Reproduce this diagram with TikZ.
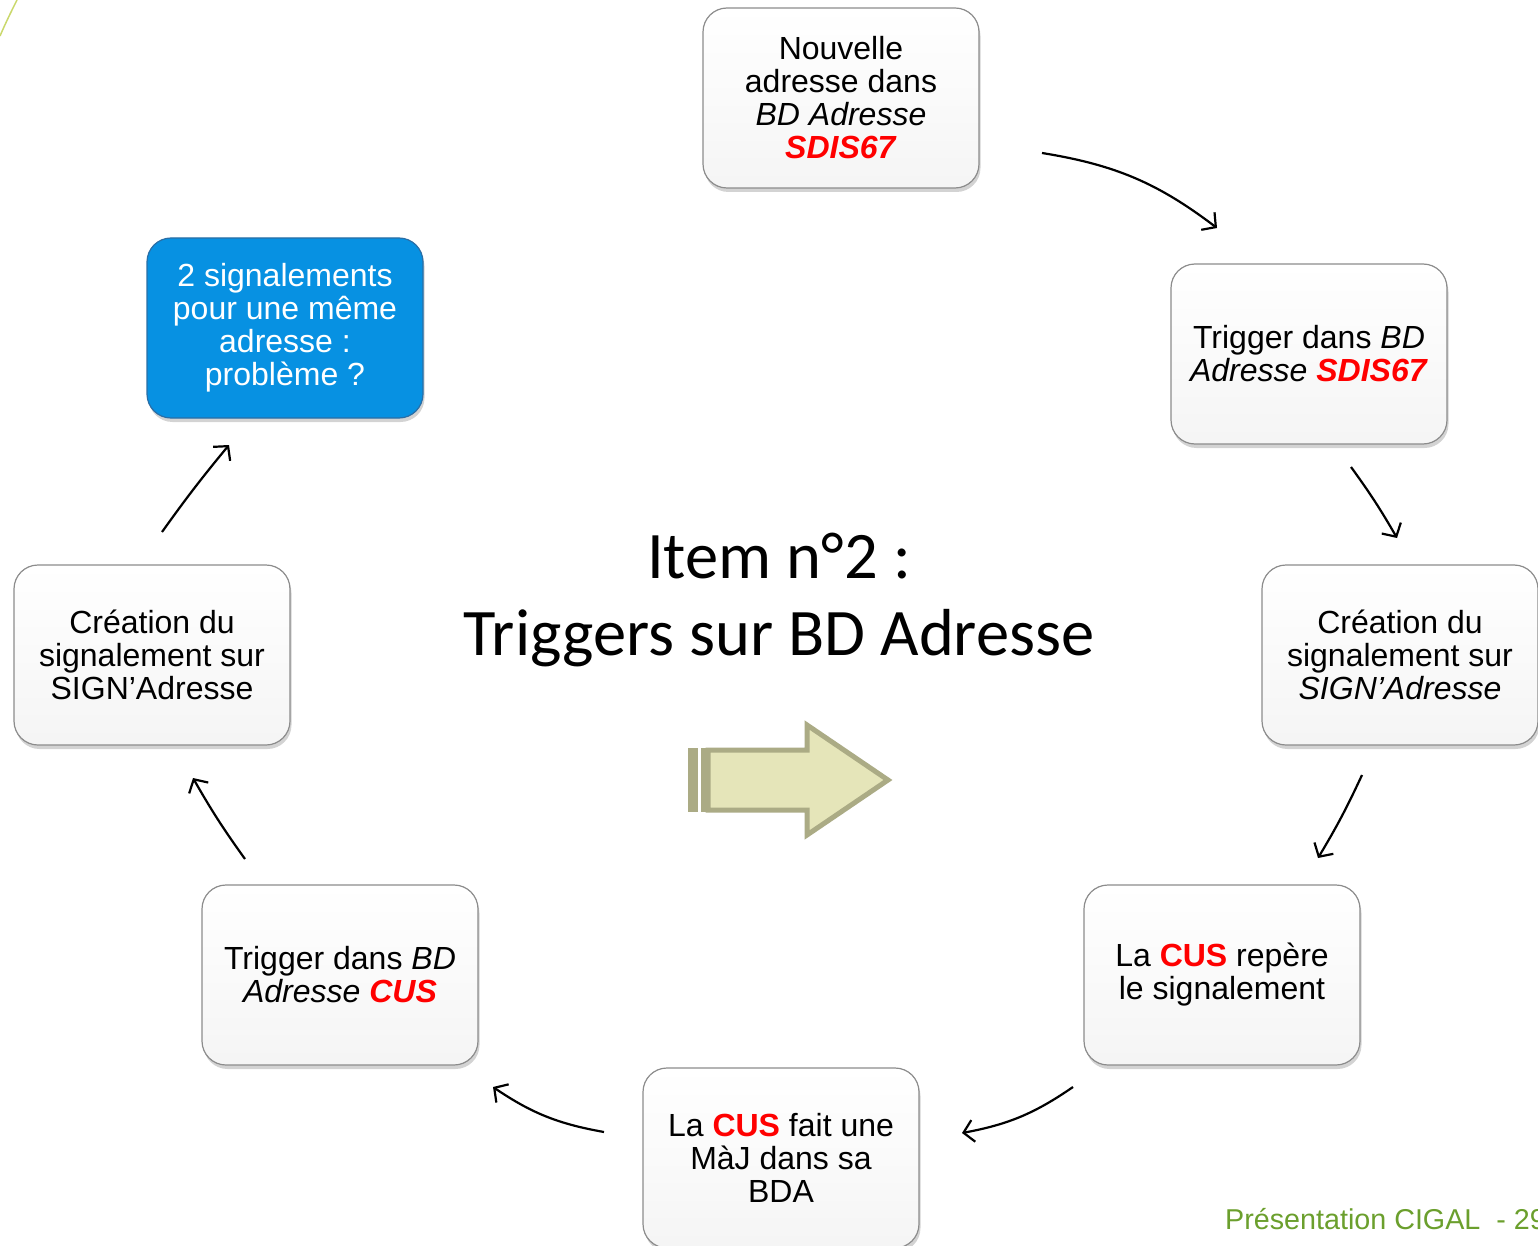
\documentclass[tikz,border=0pt]{standalone}
\usepackage{fontspec}
\setmainfont{Liberation Sans}
\newfontfamily\titlefont{Carlito}
\usetikzlibrary{arrows.meta,shadows}
\definecolor{boxborder}{HTML}{8C8C8C}
\definecolor{boxblue}{HTML}{0791E2}
\definecolor{boxblueborder}{HTML}{2A6EA6}
\definecolor{footgreen}{HTML}{6B9F2D}
\definecolor{arrowfill}{HTML}{E5E5B9}
\definecolor{arrowline}{HTML}{ABAB85}
\definecolor{cornergreen}{HTML}{CAD86C}
\newcommand\redbi[1]{\textcolor{red}{\textbf{\textit{#1}}}}
\newcommand\redb[1]{\textcolor{red}{\textbf{#1}}}
\begin{document}
\begin{tikzpicture}[x=1pt,y=-1pt,
  box/.style={rectangle, rounded corners=24pt, minimum width=276pt, minimum height=180pt,
    draw=boxborder, line width=1.2pt, top color=white, bottom color=black!4,
    drop shadow={shadow xshift=1.5pt, shadow yshift=-4pt, opacity=0.35},
    align=center, font=\fontsize{32}{33}\selectfont, inner sep=0pt},
  bluebox/.style={box, top color=boxblue, bottom color=boxblue, draw=boxblueborder, text=white},
  flow/.style={draw=black, line width=2.2pt, -{Straight Barb[length=10pt,width=22pt,line width=2.2pt]}},
  title/.style={font=\titlefont\fontsize{66.5}{70}\selectfont, anchor=base}
]
\useasboundingbox (0,0) rectangle (1538,1246);

% corner decoration
\draw[cornergreen, line width=1.5pt] (0,36) .. controls (6,22) and (12,10) .. (17,0);

% boxes
\node[box] (b1) at (841,98) {Nouvelle\\adresse dans\\\textit{BD Adresse}\\\redbi{SDIS67}};
\node[box] (b2) at (1309,354) {Trigger dans \textit{BD}\\\textit{Adresse} \redbi{SDIS67}};
\node[box] (b3) at (1400,655) {Création du\\signalement sur\\\textit{SIGN’Adresse}};
\node[box] (b4) at (1222,975) {La \redb{CUS} repère\\le signalement};
\node[box] (b5) at (781,1158) {La \redb{CUS} fait une\\MàJ dans sa\\BDA};
\node[box] (b6) at (340,975) {Trigger dans \textit{BD}\\\textit{Adresse} \redbi{CUS}};
\node[box] (b7) at (152,655) {Création du\\signalement sur\\SIGN’Adresse};
\node[bluebox] (b8) at (285,328) {2 signalements\\pour une même\\adresse :\\problème ?};

% title
\node[title] (t1) at (779,578) {Item n°2 :};
\node[title] (t2) at (779,655) {Triggers sur BD Adresse};

% connector end points
\coordinate (a1s) at (1042,153); \coordinate (a1e) at (1217,228);
\coordinate (a2s) at (1351,467); \coordinate (a2e) at (1397,538);
\coordinate (a3s) at (1362,775); \coordinate (a3e) at (1318,858);
\coordinate (a4s) at (1073,1087); \coordinate (a4e) at (962,1133);
\coordinate (a5s) at (604,1132); \coordinate (a5e) at (493,1087);
\coordinate (a6s) at (245,859); \coordinate (a6e) at (193,778);
\coordinate (a7s) at (162,532); \coordinate (a7e) at (229,445);

\draw[flow] (a1s) to[bend left=14] (a1e);
\draw[flow] (a2s) to[bend left=3] (a2e);
\draw[flow] (a3s) to[bend left=3] (a3e);
\draw[flow] (a4s) to[bend left=12] (a4e);
\draw[flow] (a5s) to[bend left=12] (a5e);
\draw[flow] (a6s) to[bend left=3] (a6e);
\draw[flow] (a7s) to[bend left=2] (a7e);

% block arrow
\fill[arrowline] (688,748) rectangle (698,812);
\fill[arrowline] (701,748) rectangle (707,812);
\draw[arrowline, fill=arrowfill, line width=5pt, line join=miter]
  (708,750) -- (807,750) -- (807,725) -- (888,780) -- (807,835) -- (807,810) -- (708,810) -- cycle;

% footer
\node[anchor=base west, text=footgreen, font=\fontsize{28.7}{30}\selectfont, inner sep=0pt] (foot) at (1225,1229) {Présentation CIGAL\ \ - 29};
\end{tikzpicture}
\end{document}
